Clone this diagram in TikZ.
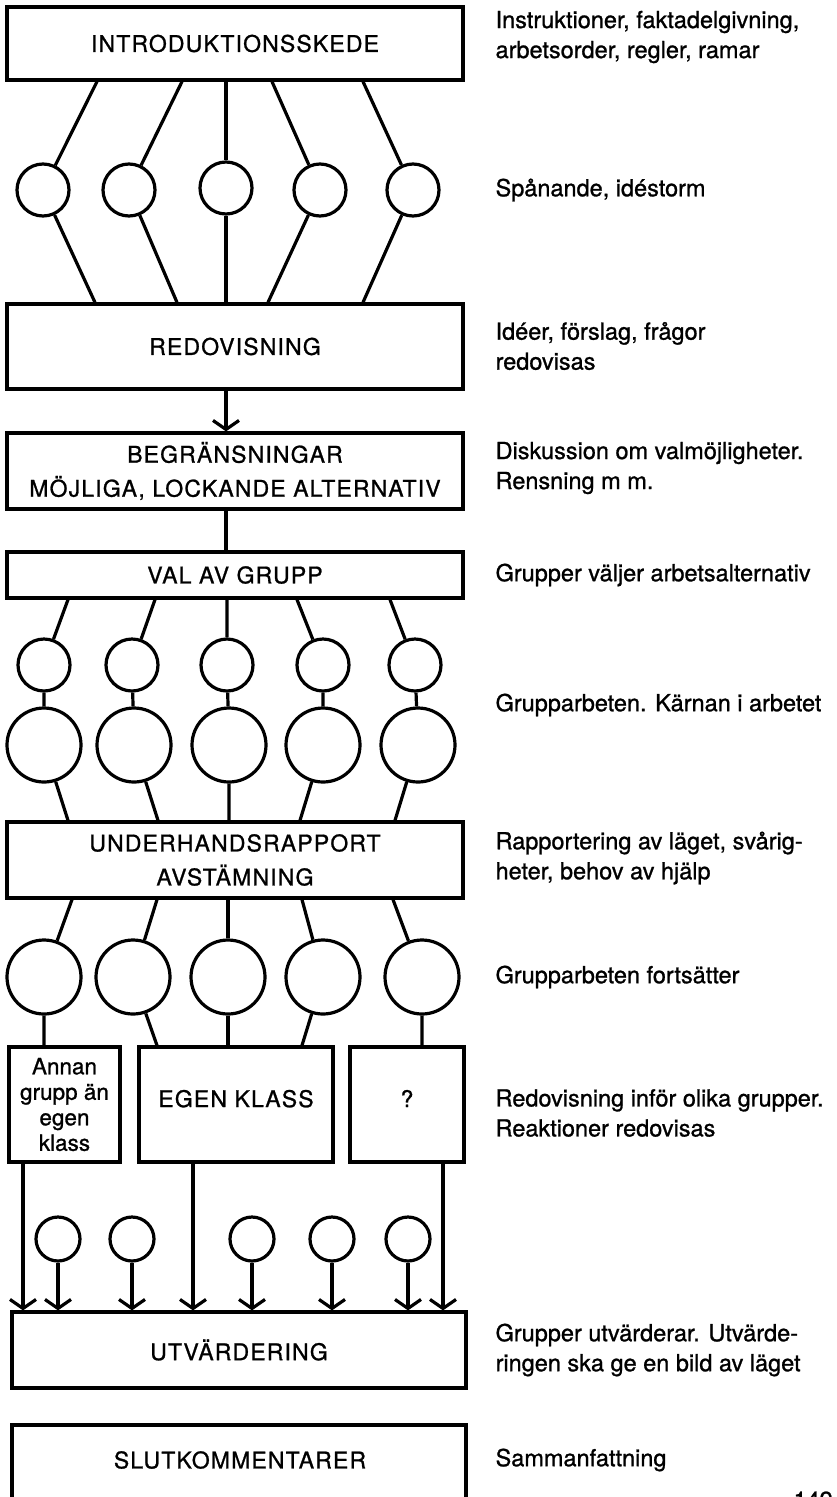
\documentclass[tikz,border=0pt]{standalone}
\usepackage{fontspec}
\setmainfont[FakeBold=1]{TeX Gyre Heros}
\newfontfamily\capsfont[LetterSpace=5,FakeBold=1]{TeX Gyre Heros}
\usetikzlibrary{arrows.meta}
\begin{document}
\begin{tikzpicture}[x=1pt,y=-1pt,line width=3.2pt,
  box/.style={draw,rectangle,inner sep=0pt,align=center,font=\capsfont\fontsize{23}{34}\selectfont},
  circ/.style={draw,circle,inner sep=0pt,minimum size=#1},
  note/.style={anchor=west,inner sep=0pt,align=left,font=\fontsize{23.5}{30}\selectfont},
  small/.style={font=\fontsize{22.5}{25.5}\selectfont},
  arr/.style={-{Straight Barb[length=9pt,width=26pt]}}]
\clip (0,0) rectangle (836,1497);
% boxes
\node[box,minimum width=456pt,minimum height=73pt] (intro) at (235,43.5) {INTRODUKTIONSSKEDE};
\node[box,minimum width=456pt,minimum height=85pt] (redov) at (235,346.5) {REDOVISNING};
\node[box,minimum width=456pt,minimum height=76pt] (begr) at (235,471) {BEGRÄNSNINGAR\\MÖJLIGA, LOCKANDE ALTERNATIV};
\node[box,minimum width=456pt,minimum height=46pt] (val) at (235,575) {VAL AV GRUPP};
\node[box,minimum width=456pt,minimum height=76pt] (under) at (235,860) {UNDERHANDSRAPPORT\\AVSTÄMNING};
\node[box,small,minimum width=111pt,minimum height=115pt] (annan) at (64.5,1104.5) {Annan\\grupp än\\egen\\klass};
\node[box,minimum width=194pt,minimum height=115pt] (egen) at (236,1104.5) {\raisebox{12pt}{EGEN KLASS}};
\node[box,minimum width=114pt,minimum height=115pt] (quest) at (407,1104.5) {\raisebox{12pt}{?}};
\node[box,minimum width=454pt,minimum height=76pt] (utv) at (239,1350) {UTVÄRDERING};
\node[box,minimum width=454pt,minimum height=110pt] (slut) at (239,1480) {};
\node[inner sep=0pt,font=\capsfont\fontsize{23}{34}\selectfont] (slutT) at (240,1460) {SLUTKOMMENTARER};
% row 1 circles
\node[circ=52pt] (c1) at (43,190) {};
\node[circ=52pt] (c2) at (129,190) {};
\node[circ=52pt] (c3) at (226,188) {};
\node[circ=52pt] (c4) at (320,190) {};
\node[circ=52pt] (c5) at (413,190) {};
% row 2 circles
\node[circ=52pt] (d1) at (44,665) {};
\node[circ=52pt] (d2) at (132,665) {};
\node[circ=52pt] (d3) at (227,665) {};
\node[circ=52pt] (d4) at (323,665) {};
\node[circ=52pt] (d5) at (415,665) {};
\node[circ=74pt] (e1) at (44,745) {};
\node[circ=74pt] (e2) at (134,745) {};
\node[circ=74pt] (e3) at (229,745) {};
\node[circ=74pt] (e4) at (323,745) {};
\node[circ=74pt] (e5) at (418,745) {};
% row 3 circles
\node[circ=74pt] (f1) at (44,977) {};
\node[circ=74pt] (f2) at (133,977) {};
\node[circ=74pt] (f3) at (228,977) {};
\node[circ=74pt] (f4) at (323,977) {};
\node[circ=74pt] (f5) at (422,977) {};
% bottom small circles
\node[circ=44pt] (g1) at (58,1239) {};
\node[circ=44pt] (g2) at (132,1239) {};
\node[circ=44pt] (g3) at (252,1239) {};
\node[circ=44pt] (g4) at (332,1239) {};
\node[circ=44pt] (g5) at (408,1239) {};
% connectors intro -> row1 -> redov
\draw ([xshift=-138pt]intro.south) -- (c1) -- ([xshift=-140pt]redov.north);
\draw ([xshift=-53pt]intro.south) -- (c2) -- ([xshift=-58pt]redov.north);
\draw (c3 |- intro.south) -- (c3) -- (c3 |- redov.north);
\draw ([xshift=37pt]intro.south) -- (c4) -- ([xshift=33pt]redov.north);
\draw ([xshift=128pt]intro.south) -- (c5) -- ([xshift=128pt]redov.north);
\draw[arr] (c3 |- redov.south) -- (c3 |- begr.north);
\draw (c3 |- begr.south) -- (c3 |- val.north);
% val -> row2 -> under
\draw ([xshift=-167pt]val.south) -- (d1) -- (e1) -- ([xshift=-167pt]under.north);
\draw ([xshift=-80pt]val.south) -- (d2) -- (e2) -- ([xshift=-77pt]under.north);
\draw (d3 |- val.south) -- (d3) -- (e3) -- (e3 |- under.north);
\draw ([xshift=62pt]val.south) -- (d4) -- (e4) -- ([xshift=65pt]under.north);
\draw ([xshift=155pt]val.south) -- (d5) -- (e5) -- ([xshift=160pt]under.north);
% under -> row3 -> boxes
\draw ([xshift=-163pt]under.south) -- (f1) -- (f1 |- annan.north);
\draw ([xshift=-78pt]under.south) -- (f2) -- ([xshift=-79pt]egen.north);
\draw (f3 |- under.south) -- (f3) -- (f3 |- egen.north);
\draw ([xshift=67pt]under.south) -- (f4) -- ([xshift=66pt]egen.north);
\draw ([xshift=158pt]under.south) -- (f5) -- (f5 |- quest.north);
% boxes -> utv
\draw[arr] ([xshift=-41.5pt]annan.south) coordinate (a1) -- (a1 |- utv.north);
\draw[arr] ([xshift=-43pt]egen.south) coordinate (a2) -- (a2 |- utv.north);
\draw[arr] ([xshift=36pt]quest.south) coordinate (a3) -- (a3 |- utv.north);
\foreach \g in {g1,g2,g3,g4,g5} \draw[arr] (\g) -- (\g |- utv.north);
% notes
\node[note] (n1) at (494,37) {Instruktioner, faktadelgivning,\\arbetsorder, regler, ramar};
\node[note] (n2) at (494,190) {Spånande, idéstorm};
\node[note] (n3) at (494,346) {Idéer, förslag, frågor\\redovisas};
\node[note] (n4) at (494,468) {Diskussion om valmöjligheter.\\Rensning m m.};
\node[note] (n5) at (494,575) {Grupper väljer arbetsalternativ};
\node[note] (n6) at (494,705) {Grupparbeten. Kärnan i arbetet};
\node[note] (n7) at (494,858) {Rapportering av läget, svårig-\\heter, behov av hjälp};
\node[note] (n8) at (494,977) {Grupparbeten fortsätter};
\node[note] (n9) at (494,1113) {Redovisning inför olika grupper.\\Reaktioner redovisas};
\node[note] (n10) at (494,1350) {Grupper utvärderar. Utvärde-\\ringen ska ge en bild av läget};
\node[note] (n11) at (494,1460) {Sammanfattning};
\node[note,anchor=west] (pg) at (792,1500) {149};
\end{tikzpicture}
\end{document}
